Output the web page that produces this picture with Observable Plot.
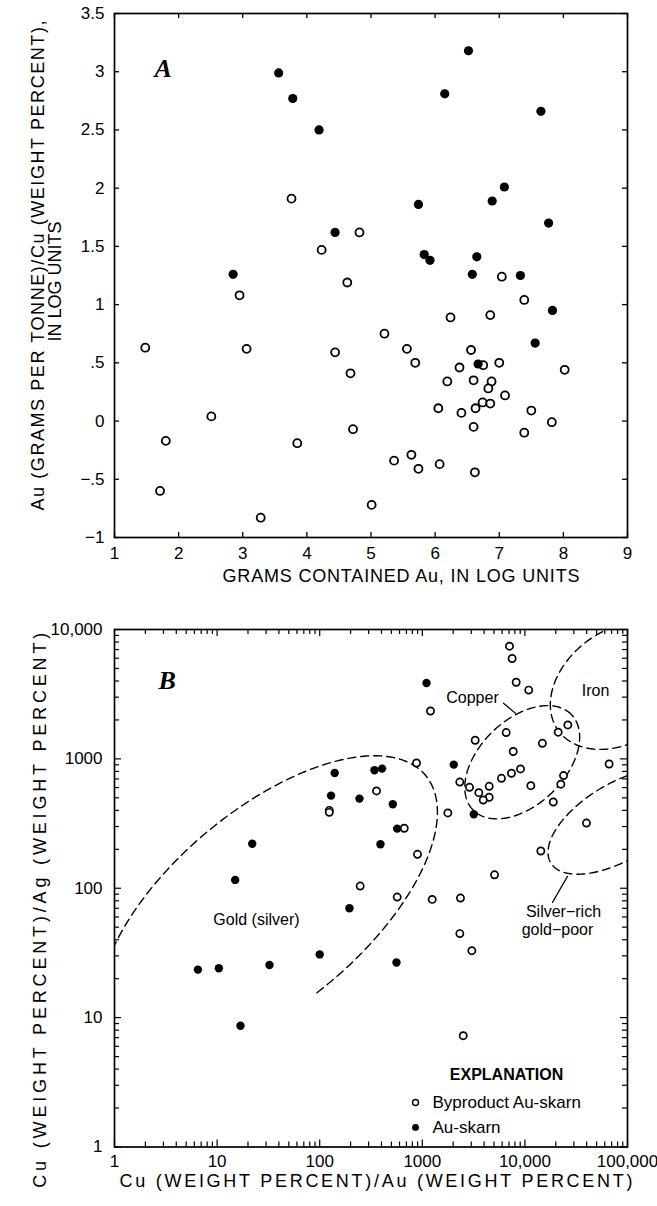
<!DOCTYPE html>
<html><head><meta charset="utf-8">
<script src="https://cdn.jsdelivr.net/npm/d3@7"></script>
<script src="https://cdn.jsdelivr.net/npm/@observablehq/plot@0.6"></script>
<style>
body{margin:0;background:#fff;}
#wrap{position:relative;width:657px;height:1206px;overflow:hidden;}
#a{position:absolute;left:0;top:0;}
#b{position:absolute;left:0;top:600px;}
</style></head><body><div id="wrap"><div id="a"></div><div id="b"></div></div>
<script>
// ---------------- Panel A data ----------------
const aFilledX = [3.56,3.78,4.19,4.44,2.85,6.52,6.15,7.65,5.74,7.08,6.89,7.77,5.83,5.92,6.65,6.58,7.33,7.83,7.56,6.67];
const aFilledY = [2.99,2.77,2.50,1.62,1.26,3.18,2.81,2.66,1.86,2.01,1.89,1.70,1.43,1.38,1.41,1.26,1.25,0.95,0.67,0.49];
const aOpenX = [3.76,4.82,4.23,4.63,2.95,1.48,3.06,4.44,4.68,2.51,1.80,3.85,4.72,1.71,3.28,5.01,5.21,5.56,5.69,6.24,7.04,7.39,6.86,6.56,6.75,7.00,6.38,8.02,6.19,6.60,6.88,6.83,7.09,6.74,6.86,6.05,6.63,6.41,7.50,7.82,6.60,7.39,5.36,5.63,5.74,6.07,6.62];
const aOpenY = [1.91,1.62,1.47,1.19,1.08,0.63,0.62,0.59,0.41,0.04,-0.17,-0.19,-0.07,-0.60,-0.83,-0.72,0.75,0.62,0.50,0.89,1.24,1.04,0.91,0.61,0.48,0.50,0.46,0.44,0.34,0.35,0.34,0.28,0.22,0.16,0.15,0.11,0.11,0.07,0.09,-0.01,-0.05,-0.10,-0.34,-0.29,-0.41,-0.37,-0.44];
const aXTicks = [1,2,3,4,5,6,7,8,9];
const aYTicks = [-1,-0.5,0,0.5,1,1.5,2,2.5,3,3.5];
const aYTickLabels = ["\u22121","\u2212.5","0",".5","1","1.5","2","2.5","3","3.5"];
const aXTitle = "GRAMS CONTAINED Au, IN LOG UNITS";
const aYTitle1 = "Au (GRAMS PER TONNE)/Cu (WEIGHT PERCENT),";
const aYTitle2 = "IN LOG UNITS";

// ---------------- Panel B data ----------------
const bFilledX = [140,129,244,342,406,22,15,391,516,569,1099,2027,3177,6.5,10.4,32.4,100,195,16.9,560];
const bFilledY = [778,520,493,817,841,221,116,219,446,289,3863,903,373,23.5,24.1,25.5,30.8,70,8.65,26.7];
const bOpenX = [124,124,248,358,667,878,898,1774,1202,7079,7510,8220,10900,26200,21100,14800,6570,3276,7690,9060,7400,5910,11420,23800,22400,18900,66200,39800,14300,5060,2320,2885,3555,4488,4488,3925,569,1249,2355,2322,3040,2505];
const bOpenY = [400,386,104,565,291,929,183,382,2345,7430,5970,3910,3400,1829,1608,1320,1597,1393,1140,836,774,708,621,743,637,464,913,319,194,127,662,603,548,614,505,481,85.5,82,84,44.6,32.9,7.25];
const bDecades = [1,10,100,1000,10000,100000];
const bXTickLabels = ["1","10","100","1000","10,000","100,000"];
const bYTickLabels = ["1","10","100","1000","10,000"];
const bXTitle = "Cu (WEIGHT PERCENT)/Au (WEIGHT PERCENT)";
const bYTitle = "Cu (WEIGHT PERCENT)/Ag (WEIGHT PERCENT)";
const legendTitle = "EXPLANATION";
const legendLabels = ["Byproduct Au-skarn","Au-skarn"];
// field outlines: ellipses in log10 units (center, axis vectors, arc range in degrees)
const fields = [
  {name:"Gold (silver)", c:[1.501,1.854], A:[1.530,1.019], B:[-0.608,0.575], t0:-95, t1:137},
  {name:"Copper", c:[3.974,2.974], A:[0.480,0.368], B:[-0.288,0.237], t0:0, t1:360},
  {name:"Iron", c:[4.945,3.569], A:[0.623,0.346], B:[-0.313,0.355], t0:0, t1:360},
  {name:"Silver-rich gold-poor", c:[4.92,2.515], A:[0.668,0.319], B:[-0.191,0.252], t0:0, t1:360}
];

// ---------------- build ----------------
const FONT = '"Liberation Sans", Arial, Helvetica, sans-serif';
const SERIF = '"Liberation Serif", "DejaVu Serif", serif';
const aFilled = aFilledX.map((x,i)=>({x, y:aFilledY[i]}));
const aOpen = aOpenX.map((x,i)=>({x, y:aOpenY[i]}));
const bFilled = bFilledX.map((x,i)=>({x, y:bFilledY[i]}));
const bOpen = bOpenX.map((x,i)=>({x, y:bOpenY[i]}));
const bMinorX = [], bMinorY = [];
for (const d of bDecades.slice(0,-1)) for (let k=2;k<=9;k++){ bMinorX.push(d*k); if (d<10000) bMinorY.push(d*k); }
const bYDecades = bDecades.slice(0,5);

const fieldPts = [];
fields.forEach((f,fi)=>{
  for (let t=f.t0; t<=f.t1; t+=1) {
    const r = t*Math.PI/180;
    fieldPts.push({f:fi, x:10**(f.c[0]+Math.cos(r)*f.A[0]+Math.sin(r)*f.B[0]), y:10**(f.c[1]+Math.cos(r)*f.A[1]+Math.sin(r)*f.B[1])});
  }
});

const W = 657;
// Panel A frame: x 114..627, y 13..537
const chartA = Plot.plot({
  width: W, height: 600,
  marginTop: 13, marginBottom: 63, marginLeft: 114, marginRight: 30,
  x: {domain: [1, 9]},
  y: {domain: [-1, 3.5]},
  style: {fontFamily: FONT, fontSize: "17px", color: "black", background: "white", overflow: "visible"},
  marks: [
    Plot.tickX(aXTicks, {x: d=>d, insetTop: 519, stroke: "black", strokeWidth: 1.3}),
    Plot.tickX(aXTicks, {x: d=>d, insetBottom: 519, stroke: "black", strokeWidth: 1.3}),
    Plot.tickY(aYTicks, {y: d=>d, insetRight: 508, stroke: "black", strokeWidth: 1.3}),
    Plot.tickY(aYTicks, {y: d=>d, insetLeft: 508, stroke: "black", strokeWidth: 1.3}),
    Plot.axisX(aXTicks, {tickSize: 0, tickPadding: 9, label: null, fontSize: 17}),
    Plot.axisY(aYTicks, {tickSize: 0, tickPadding: 10, label: null, fontSize: 17, tickFormat: d => aYTickLabels[aYTicks.indexOf(d)]}),
    Plot.frame({stroke: "black", strokeWidth: 1.7}),
    Plot.dot(aOpen, {x: "x", y: "y", r: 4, stroke: "black", strokeWidth: 1.8, fill: "white"}),
    Plot.dot(aFilled, {x: "x", y: "y", r: 4.6, fill: "black", stroke: "none"}),
    Plot.text(["A"], {frameAnchor: "top-left", dx: 40, dy: 45, fontFamily: SERIF, fontWeight: "bold", fontStyle: "italic", fontSize: 26}),
    Plot.text([aXTitle], {frameAnchor: "bottom", dy: 44, dx: 30, fontSize: 18}),
    Plot.text([aYTitle1], {frameAnchor: "left", textAnchor: "middle", rotate: -90, dx: -76, dy: -10, fontSize: 18}),
    Plot.text([aYTitle2], {frameAnchor: "left", textAnchor: "middle", rotate: -90, dx: -59, dy: 6, fontSize: 18})
  ]
});
document.getElementById("a").append(chartA);

// Panel B frame: x 114..627, y 629..1146.5 (page)
const chartB = Plot.plot({
  width: W, height: 606,
  marginTop: 29, marginBottom: 59.5, marginLeft: 114, marginRight: 30,
  x: {type: "log", domain: [1, 100000]},
  y: {type: "log", domain: [1, 10000]},
  style: {fontFamily: FONT, fontSize: "17px", color: "black", background: "white", overflow: "visible"},
  marks: [
    Plot.tickX(bMinorX, {x: d=>d, insetTop: 512.5, stroke: "black", strokeWidth: 1.2}),
    Plot.tickX(bMinorX, {x: d=>d, insetBottom: 512.5, stroke: "black", strokeWidth: 1.2}),
    Plot.tickX(bDecades, {x: d=>d, insetTop: 510.5, stroke: "black", strokeWidth: 1.2}),
    Plot.tickX(bDecades, {x: d=>d, insetBottom: 510.5, stroke: "black", strokeWidth: 1.2}),
    Plot.tickY(bMinorY, {y: d=>d, insetRight: 508, stroke: "black", strokeWidth: 1.2}),
    Plot.tickY(bMinorY, {y: d=>d, insetLeft: 508, stroke: "black", strokeWidth: 1.2}),
    Plot.tickY(bYDecades, {y: d=>d, insetRight: 506, stroke: "black", strokeWidth: 1.2}),
    Plot.tickY(bYDecades, {y: d=>d, insetLeft: 506, stroke: "black", strokeWidth: 1.2}),
    Plot.axisX(bDecades, {tickSize: 0, tickPadding: 8, label: null, fontSize: 17, tickFormat: d => bXTickLabels[bDecades.indexOf(d)]}),
    Plot.axisY(bYDecades, {tickSize: 0, tickPadding: 12, label: null, fontSize: 17, tickFormat: d => bYTickLabels[bYDecades.indexOf(d)]}),
    Plot.line(fieldPts, {x: "x", y: "y", z: "f", stroke: "black", strokeWidth: 1.4, strokeDasharray: "8,5", clip: true, curve: "linear"}),
    Plot.frame({stroke: "black", strokeWidth: 1.7}),
    Plot.dot(bOpen, {x: "x", y: "y", r: 3.6, stroke: "black", strokeWidth: 1.7, fill: "white"}),
    Plot.dot(bFilled, {x: "x", y: "y", r: 4.2, fill: "black", stroke: "none"}),
    Plot.text(["B"], {frameAnchor: "top-left", dx: 44, dy: 41, fontFamily: SERIF, fontWeight: "bold", fontStyle: "italic", fontSize: 26}),
    // field labels
    Plot.text([{t: "Gold (silver)", x: 24.2, y: 56.5}, {t: "Copper", x: 3085, y: 2943}, {t: "Iron", x: 48760, y: 3335}, {t: "Silver\u2212rich", x: 23780, y: 65.2}, {t: "gold\u2212poor", x: 20790, y: 47.3}], {x: "x", y: "y", text: "t", fontSize: 16}),
    Plot.line([{x: 6185, y: 2692}, {x: 8094, y: 2254}], {x: "x", y: "y", stroke: "black", strokeWidth: 1.2}),
    Plot.line([{x: 26000, y: 123.6}, {x: 18580, y: 77.8}], {x: "x", y: "y", stroke: "black", strokeWidth: 1.2}),
    // legend
    Plot.text([legendTitle], {x: 6620, y: 3.64, fontWeight: "bold", fontSize: 16, fontFamily: '"Liberation Sans Narrow", "Liberation Sans", Arial, sans-serif'}),
    Plot.dot([{x: 859, y: 2.21}], {x: "x", y: "y", r: 3, stroke: "black", strokeWidth: 1.4, fill: "white"}),
    Plot.dot([{x: 859, y: 1.416}], {x: "x", y: "y", r: 3.4, fill: "black"}),
    Plot.text([{t: legendLabels[0], y: 2.21}, {t: legendLabels[1], y: 1.416}], {x: 1257, y: "y", text: "t", textAnchor: "start", fontSize: 17}),
    Plot.text([bXTitle], {frameAnchor: "bottom", dy: 40, dx: 5, fontSize: 18}),
    Plot.text([bYTitle], {frameAnchor: "left", textAnchor: "middle", rotate: -90, dx: -74, dy: 22, fontSize: 18})
  ]
});
document.getElementById("b").append(chartB);

// letter spacing of the typewritten titles
const fit = {};
fit[aXTitle] = 357; fit[aYTitle1] = 490; fit[bXTitle] = 513; fit[bYTitle] = 555;
d3.selectAll("svg text").each(function(){
  const t = this.textContent;
  if (fit[t]) { this.setAttribute("textLength", fit[t]); this.setAttribute("lengthAdjust", "spacing"); }
});
</script></body></html>
